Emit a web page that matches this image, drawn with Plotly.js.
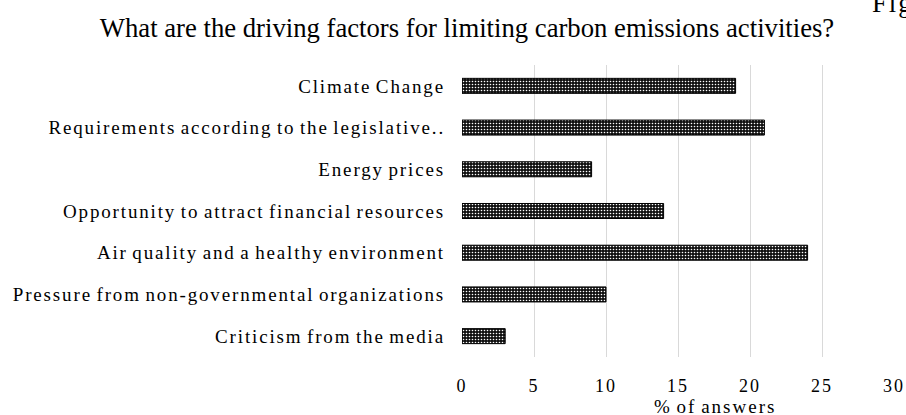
<!DOCTYPE html>
<html>
<head>
<meta charset="utf-8">
<script src="https://cdn.plot.ly/plotly-3.0.1.min.js"></script>
<style>
  html, body { margin: 0; padding: 0; background: #fff; }
  #chart { width: 906px; height: 415px; }
  .ytick text { letter-spacing: 1.85px; word-spacing: -2px; }
  .xtick text { letter-spacing: 2px; }
  .annotation-text { letter-spacing: 2px; word-spacing: -2px; }
</style>
</head>
<body>
<div id="chart"></div>
<script>
// Driving factors for limiting carbon emissions, share of answers (%)
const factors = [
  "Climate Change",
  "Requirements according to the legislative..",
  "Energy prices",
  "Opportunity to attract financial resources",
  "Air quality and a healthy environment",
  "Pressure from non-governmental organizations",
  "Criticism from the media"
];
const shares = [19, 21, 9, 14, 24, 10, 3];
const xTicks = [0, 5, 10, 15, 20, 25, 30];

const serif = "Liberation Serif";

const W = 906, H = 415;
const plotL = 462, plotR = 894, plotT = 65, plotB = 357;
const toPaperY = (py) => (plotB - py) / (plotB - plotT);
const toPaperX = (px) => (px - plotL) / (plotR - plotL);

const trace = {
  type: "bar",
  orientation: "h",
  y: factors,
  x: shares,
  width: 0.36,
  marker: {
    color: "#1a1a1a",
    line: { color: "#000", width: 1 },
    pattern: { shape: ".", fgcolor: "#ffffff", bgcolor: "#111111", size: 3, solidity: 0.22 }
  },
  hoverinfo: "x+y"
};

const layout = {
  width: W, height: H,
  margin: { l: plotL, r: W - plotR, t: plotT, b: H - plotB, pad: 0 },
  paper_bgcolor: "#fff",
  plot_bgcolor: "#fff",
  showlegend: false,
  title: {
    text: "What are the driving factors for limiting carbon emissions activities?",
    font: { family: serif, size: 26.7, color: "#000" },
    x: 467 / W, xanchor: "center",
    y: 1 - 28 / H, yanchor: "middle",
    xref: "container", yref: "container"
  },
  xaxis: {
    range: [0, 30],
    tickvals: xTicks,
    ticktext: xTicks.map(String),
    showgrid: true,
    gridcolor: "#d9d9d9",
    gridwidth: 1,
    zeroline: false,
    showline: false,
    ticks: "",
    ticklabelstandoff: 16,
    tickfont: { family: serif, size: 18, color: "#000" },
    fixedrange: true
  },
  yaxis: {
    type: "category",
    autorange: "reversed",
    showgrid: false,
    zeroline: false,
    showline: false,
    ticks: "",
    ticklabelstandoff: 16,
    tickfont: { family: serif, size: 19, color: "#000" },
    fixedrange: true
  },
  annotations: [
    {
      text: "% of answers",
      xref: "paper", yref: "paper",
      x: toPaperX(715),
      y: toPaperY(406),
      xanchor: "center", yanchor: "middle",
      showarrow: false,
      font: { family: serif, size: 19, color: "#000" }
    },
    {
      text: "Fig",
      xref: "paper", yref: "paper",
      x: toPaperX(870),
      y: toPaperY(3),
      xanchor: "left", yanchor: "middle",
      showarrow: false,
      font: { family: serif, size: 26.7, color: "#000" }
    }
  ]
};

Plotly.newPlot("chart", [trace], layout, { displayModeBar: false, staticPlot: true });
</script>
</body>
</html>
